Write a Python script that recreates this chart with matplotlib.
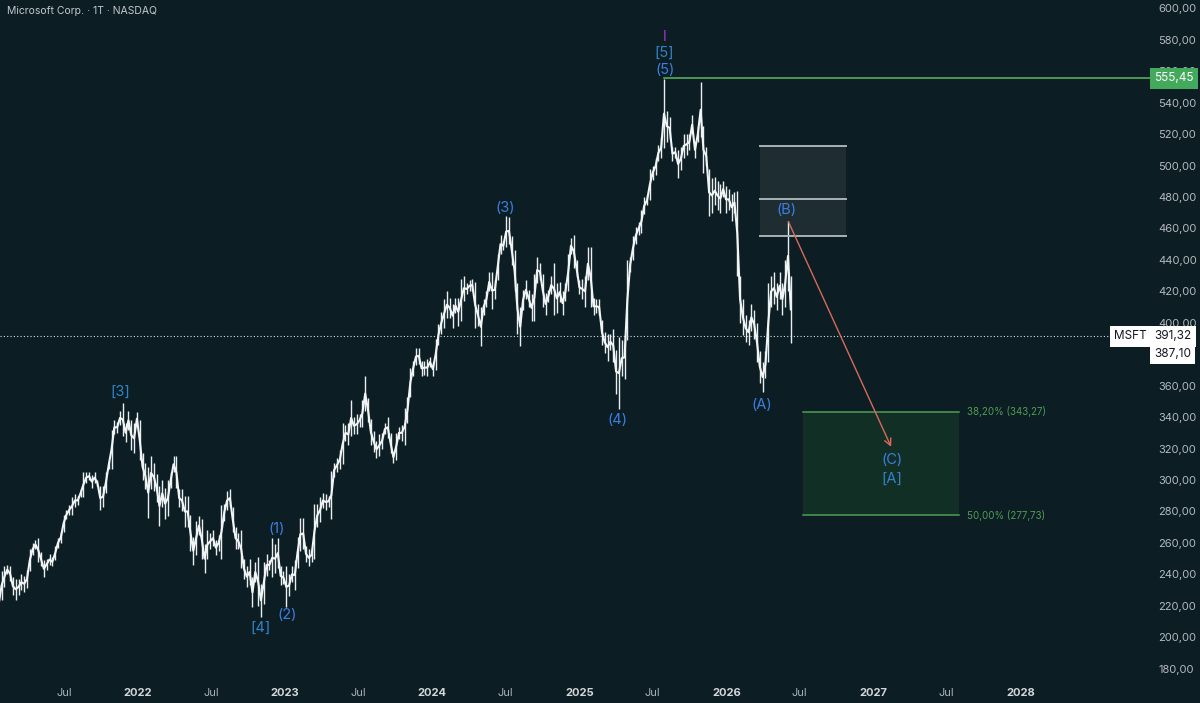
import matplotlib
matplotlib.use("Agg")
import matplotlib.pyplot as plt
import matplotlib.dates as mdates
from matplotlib.patches import Rectangle
import numpy as np
import pandas as pd

plt.rcParams['font.family'] = ['Inter', 'DejaVu Sans']

# weekly lows / highs of MSFT, weeks starting 2021-01-11
lo_2021 = [211, 213, 224, 232, 240, 236, 227, 224, 227, 230, 229, 231, 242, 252, 256, 248, 245,
           238, 243, 246, 245, 249, 257, 260, 267, 275, 278, 278, 283, 284, 289, 289, 298, 300,
           295, 298, 296, 281, 283, 292, 307, 307, 329, 330, 335, 328, 324, 332, 319, 317, 335]
hi_2021 = [218, 230, 242, 245, 246, 245, 238, 237, 237, 240, 239, 243, 256, 260, 262, 263, 254,
           249, 250, 253, 251, 258, 263, 267, 278, 281, 284, 289, 291, 290, 294, 305, 305, 305,
           303, 305, 300, 296, 296, 305, 312, 332, 338, 337, 344, 349, 336, 344, 338, 336, 343]
lo_2022 = [313, 300, 294, 276, 294, 293, 286, 271, 283, 275, 277, 295, 305, 295, 283, 280, 270,
           270, 255, 246, 252, 265, 250, 241, 250, 256, 258, 252, 255, 250, 274, 281, 283, 267,
           256, 256, 244, 237, 232, 233, 219, 235, 220, 213, 221, 239, 243, 238, 241, 244, 233, 234]
hi_2022 = [338, 317, 311, 308, 315, 311, 304, 296, 300, 295, 300, 305, 315, 315, 294, 294, 290,
           290, 278, 264, 274, 277, 275, 259, 268, 266, 268, 262, 265, 284, 285, 293, 294, 283,
           270, 266, 268, 250, 245, 250, 238, 248, 251, 234, 248, 253, 249, 263, 259, 263, 245, 242]
lo_2023 = [219, 226, 235, 230, 244, 255, 256, 248, 245, 248, 250, 270, 273, 282, 281, 283, 275,
           302, 305, 307, 310, 325, 322, 328, 329, 329, 334, 334, 344, 337, 322, 318, 314, 315,
           320, 329, 327, 317, 311, 313, 326, 325, 322, 336, 353, 366, 373, 374, 366, 367, 366, 372]
hi_2023 = [245, 240, 245, 249, 264, 276, 276, 258, 256, 257, 285, 285, 289, 292, 291, 290, 306,
           311, 314, 319, 336, 335, 336, 351, 340, 342, 342, 351, 366, 352, 339, 331, 325, 329,
           330, 336, 340, 330, 318, 330, 334, 335, 346, 353, 371, 376, 384, 384, 376, 376, 377, 378]
lo_2024 = [366, 370, 386, 393, 397, 403, 403, 397, 406, 398, 401, 414, 418, 420, 420, 397, 398,
           385, 405, 410, 420, 409, 415, 427, 444, 446, 448, 450, 437, 420, 393, 385, 408, 415,
           410, 401, 401, 425, 427, 410, 405, 413, 418, 405, 406, 413, 405, 414, 420, 444, 435,
           429, 418]
hi_2024 = [375, 390, 399, 407, 415, 420, 416, 412, 416, 416, 428, 430, 425, 427, 428, 426, 412,
           410, 415, 420, 432, 432, 427, 444, 456, 452, 468, 467, 455, 446, 425, 410, 421, 427,
           421, 418, 431, 442, 438, 431, 419, 421, 430, 438, 425, 426, 420, 425, 444, 454, 456,
           440, 427]
lo_2025 = [415, 410, 427, 410, 405, 406, 405, 386, 381, 376, 383, 375, 355, 345, 366, 364, 389,
           432, 440, 450, 456, 457, 469, 475, 478, 491, 494, 503, 505, 511, 515, 517, 503, 505,
           492, 497, 505, 507, 510, 520, 505, 515, 518, 495, 500, 468, 470, 475, 472, 470, 480, 470]
hi_2025 = [428, 430, 448, 448, 416, 415, 415, 402, 394, 393, 393, 396, 383, 391, 389, 392, 440,
           442, 455, 461, 464, 472, 480, 481, 498, 500, 505, 513, 518, 555, 535, 531, 512, 512,
           510, 512, 520, 520, 520, 532, 515, 525, 553, 525, 512, 498, 492, 493, 490, 488, 490, 487]
lo_2026 = [472, 465, 470, 430, 400, 392, 388, 386, 395, 390, 375, 362, 356, 365, 375, 410, 412,
           408, 415, 405, 410, 420, 387]
hi_2026 = [485, 482, 483, 484, 430, 415, 405, 402, 412, 408, 400, 382, 375, 382, 425, 430, 432,
           425, 432, 425, 440, 465, 430]

last_close = 391.32
second_price = 387.10
peak_price = 555.45
peak_date = "2025-07-31"

fib_382 = 343.27
fib_500 = 277.73
zone_top, zone_mid, zone_bot = 512.4, 478.7, 455.2

wave_text = ["[3]", "[4]", "(1)", "(2)", "(3)", "(4)", "(5)", "[5]", "(A)", "(B)", "(C)", "[A]"]
wave_date = ["2021-11-18", "2022-11-02", "2022-12-12", "2023-01-06", "2024-07-02", "2025-04-06",
             "2025-08-02", "2025-07-31", "2026-03-31", "2026-05-30", "2027-02-17", "2027-02-17"]
wave_price = [356, 206, 269, 214, 473, 338, 561, 572, 347.5, 472, 313, 301]

x_ticks = ["2021-07-01", "2022-01-01", "2022-07-01", "2023-01-01", "2023-07-01", "2024-01-01",
           "2024-07-01", "2025-01-01", "2025-07-01", "2026-01-01", "2026-07-01", "2027-01-01",
           "2027-07-01", "2028-01-01"]
x_labels = ["Jul", "2022", "Jul", "2023", "Jul", "2024", "Jul", "2025", "Jul", "2026", "Jul",
            "2027", "Jul", "2028"]

bg = "#0c1e23"
fig = plt.figure(figsize=(12, 7.03), dpi=100, facecolor=bg)
ax = fig.add_axes([0, 23 / 703, 1150 / 1200, 680 / 703])
ax.set_facecolor(bg)
for s in ax.spines.values():
    s.set_visible(False)

lo = np.array(lo_2021 + lo_2022 + lo_2023 + lo_2024 + lo_2025 + lo_2026, dtype=float)
hi = np.array(hi_2021 + hi_2022 + hi_2023 + hi_2024 + hi_2025 + hi_2026, dtype=float)
dates = pd.date_range("2021-01-11", periods=len(lo), freq="7D") + pd.Timedelta(days=2)

ax.vlines(dates, lo, hi, color="#e9eef0", lw=1.0)
ax.plot(dates, (lo + hi) / 2, color="#f2f5f6", lw=1.5)

d = lambda s: mdates.date2num(pd.Timestamp(s))
x_left, x_right = d("2021-01-23"), d("2028-11-18")
ax.set_xlim(x_left, x_right)
ax.set_ylim(172.8, 605.3)

# resistance at the top
ax.plot([d(peak_date), x_right], [peak_price, peak_price], color="#5cb860", lw=1.1)
# current price
ax.axhline(last_close, color="#dfe3e6", lw=0.8, ls=(0, (1, 2)))

# grey target zone for (B)
gx0, gx1 = d("2026-03-26"), d("2026-10-25")
ax.add_patch(Rectangle((gx0, zone_bot), gx1 - gx0, zone_top - zone_bot,
                       facecolor="#ffffff", alpha=0.07, lw=0))
for yv in (zone_top, zone_mid, zone_bot):
    ax.plot([gx0, gx1], [yv, yv], color="#a9b3b6", lw=1.4)

# green fib zone for (C)
fx0, fx1 = d("2026-07-10"), d("2027-08-01")
ax.add_patch(Rectangle((fx0, fib_500), fx1 - fx0, fib_382 - fib_500,
                       facecolor="#2e7d32", alpha=0.18, lw=0))
for yv, txt in ((fib_382, "38,20% (343,27)"), (fib_500, "50,00% (277,73)")):
    ax.plot([fx0, fx1], [yv, yv], color="#4f9d55", lw=1.1)
    ax.text(d("2027-08-21"), yv, txt, color="#4f9d55", fontsize=7, va="center", ha="left")

# projected path
ax.annotate("", xy=(d("2027-02-17"), 319.5), xytext=(d("2026-06-01"), 466),
            arrowprops=dict(arrowstyle="->", color="#d9695c", lw=1.0, mutation_scale=12))

for t, dt, p in zip(wave_text, wave_date, wave_price):
    col = "#2f83c6" if t.startswith("[") else "#3c7de0"
    ax.text(d(dt), p, t, color=col, fontsize=10.5, ha="center", va="center")
ax.text(d("2025-07-31"), 581.5, "I", color="#a23bc4", fontsize=10, ha="center", va="center")

# axes styling
ax.yaxis.tick_right()
ax.set_yticks(np.arange(180, 601, 20))
ax.yaxis.set_major_formatter(plt.FuncFormatter(lambda v, _: f"{v:.2f}".replace(".", ",")))
ax.tick_params(axis="y", length=0, pad=6, labelcolor="#b4babe", labelsize=8)
ax.set_xticks([d(t) for t in x_ticks])
ax.set_xticklabels(x_labels)
ax.tick_params(axis="x", length=0, pad=6, labelcolor="#aab0b5", labelsize=8)
for lab in ax.get_xticklabels():
    if lab.get_text() != "Jul":
        lab.set_fontweight("bold")
        lab.set_color("#d2d6d9")

# price-axis tags
tag = dict(xycoords=("axes fraction", "data"), textcoords="offset points",
           va="center", fontsize=8.5)
ax.annotate("555,45", xy=(1.0, peak_price), xytext=(3, 0), ha="left", color="white",
            bbox=dict(boxstyle="square,pad=0.35", fc="#43a95c", ec="none"), **tag)
ax.annotate("391,32", xy=(1.0, last_close), xytext=(3, 0), ha="left", color="#131722",
            bbox=dict(boxstyle="square,pad=0.35", fc="white", ec="none"), **tag)
ax.annotate("387,10", xy=(1.0, last_close), xytext=(3, -12.5), ha="left", color="#131722",
            bbox=dict(boxstyle="square,pad=0.35", fc="white", ec="none"), **tag)
ax.annotate("MSFT", xy=(1.0, last_close), xytext=(-2, 0), ha="right", color="#131722",
            bbox=dict(boxstyle="square,pad=0.35", fc="white", ec="none"), **tag)

fig.text(7 / 1200, 1 - 11 / 703, "Microsoft Corp. · 1T · NASDAQ", color="#c3c8cc",
         fontsize=7.5, ha="left", va="center")

fig.savefig("out.png", dpi=100, facecolor=bg)
